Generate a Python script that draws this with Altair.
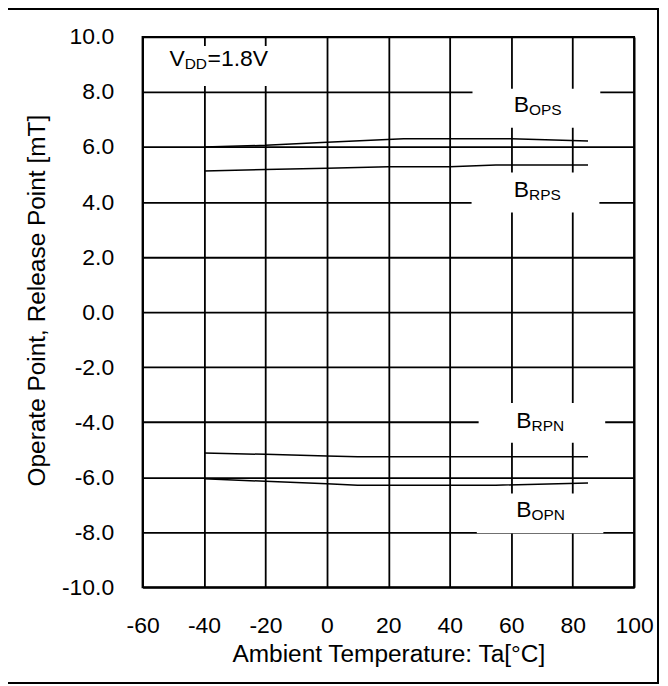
import altair as alt
import pandas as pd

# ---- data ----
bops_t = [-40, -20, 0, 25, 60, 85]
bops_v = [6.00, 6.06, 6.17, 6.30, 6.30, 6.22]
brps_t = [-40, -20, 0, 20, 40, 55, 85]
brps_v = [5.13, 5.18, 5.23, 5.28, 5.28, 5.35, 5.35]
brpn_t = [-40, -20, 0, 10, 85]
brpn_v = [-5.12, -5.17, -5.23, -5.26, -5.26]
bopn_t = [-40, -20, 0, 10, 55, 85]
bopn_v = [-6.06, -6.15, -6.24, -6.29, -6.29, -6.21]

x_ticks = list(range(-60, 101, 20))
y_ticks = list(range(-10, 11, 2))

# annotation boxes (white backgrounds behind labels), data units
box_x1 = [-54.5, 47.4, 47.1, 49.4, 48.8]
box_x2 = [-15.5, 89.0, 88.7, 90.6, 90.0]
box_y1 = [9.67, 8.12, 5.07, -3.30, -6.59]
box_y2 = [8.22, 6.70, 3.62, -4.75, -8.04]

# labels with subscripts
lab_x = [-46.3, 65.8, 65.8, 66.6, 66.6]
lab_y = [8.95, 7.29, 4.18, -4.20, -7.46]
lab_main = ["V", "B", "B", "B", "B"]
lab_sub = ["DD", "OPS", "RPS", "RPN", "OPN"]
lab_rest = ["=1.8V", "", "", "", ""]

X_TITLE = "Ambient Temperature: Ta[°C]"
Y_TITLE = "Operate Point, Release Point [mT]"
FONT = "Liberation Sans"

rows = []
for name, ts, vs in [("BOPS", bops_t, bops_v), ("BRPS", brps_t, brps_v),
                     ("BRPN", brpn_t, brpn_v), ("BOPN", bopn_t, bopn_v)]:
    for t, v in zip(ts, vs):
        rows.append({"series": name, "t": t, "b": v})
lines_df = pd.DataFrame(rows)
boxes_df = pd.DataFrame({"x1": box_x1, "x2": box_x2, "y1": box_y1, "y2": box_y2})
labels_df = pd.DataFrame({"x": lab_x, "y": lab_y, "main": lab_main,
                          "sub": lab_sub, "rest": lab_rest})

xscale = alt.Scale(domain=[-60, 100], nice=False, zero=False)
yscale = alt.Scale(domain=[-10, 10], nice=False, zero=False)
xaxis = alt.Axis(values=x_ticks, title=X_TITLE, labelFlush=False,
                 labelExpr="(datum.value < 0 ? '-' : '') + format(abs(datum.value), 'd')")
yaxis = alt.Axis(values=y_ticks, title=Y_TITLE, labelFlush=False, titleY=264,
                 labelExpr="(datum.value < 0 ? '-' : '') + format(abs(datum.value), '.1f')")


def X(field):
    return alt.X(field, type="quantitative", scale=xscale, axis=xaxis, title=X_TITLE)


def Y(field):
    return alt.Y(field, type="quantitative", scale=yscale, axis=yaxis, title=Y_TITLE)


frame = alt.Chart(pd.DataFrame({"a": [0]})).mark_rect(
    fill=None, stroke="black", strokeWidth=2
).encode(
    x=alt.value(-136), x2=alt.value(517), y=alt.value(-28), y2=alt.value(648)
)

boxes = alt.Chart(boxes_df).mark_rect(fill="white", stroke=None).encode(
    x=X("x1"), x2="x2", y=Y("y1"), y2="y2"
)

lines = alt.Chart(lines_df).mark_line(color="black", strokeWidth=1.5).encode(
    x=X("t"), y=Y("b"), detail="series:N"
)

main_txt = alt.Chart(labels_df).mark_text(
    align="right", baseline="alphabetic", fontSize=23, font=FONT, color="black"
).encode(x=X("x"), y=Y("y"), text="main:N")

sub_txt = alt.Chart(labels_df).mark_text(
    align="left", baseline="alphabetic", fontSize=15.5, font=FONT, color="black", dy=3
).encode(x=X("x"), y=Y("y"), text="sub:N")

rest_txt = alt.Chart(labels_df).mark_text(
    align="left", baseline="alphabetic", fontSize=23, font=FONT, color="black", dx=23
).encode(x=X("x"), y=Y("y"), text="rest:N")

chart = alt.layer(frame, boxes, lines, main_txt, sub_txt, rest_txt).properties(
    width=493, height=552,
    autosize=alt.AutoSizeParams(type="none"),
    padding={"left": 135, "top": 28, "right": 26, "bottom": 97},
).configure_view(
    stroke="black", strokeWidth=2
).configure_axis(
    grid=True, gridColor="black", gridWidth=1.8, gridOpacity=1,
    domain=False, ticks=False,
    labelFont=FONT, labelFontSize=23, labelColor="black",
    titleFont=FONT, titleFontSize=24.5, titleFontWeight="normal", titleColor="black",
).configure_axisX(
    labelPadding=27, titlePadding=5
).configure_axisY(
    labelPadding=29, titlePadding=12
)

chart.save("out.html", embed_options={"renderer": "svg", "actions": False})
